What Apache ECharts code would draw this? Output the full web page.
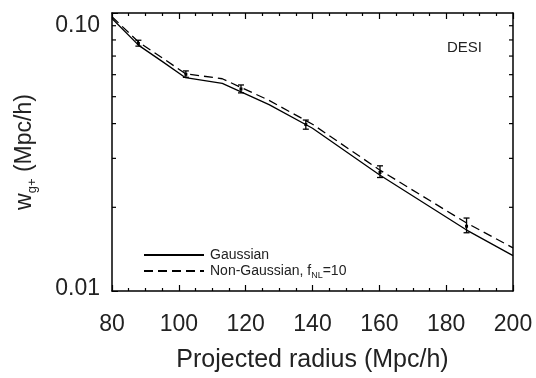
<!DOCTYPE html>
<html lang="en">
<head>
    <meta charset="utf-8">
    <script src="https://cdn.jsdelivr.net/npm/echarts@6/dist/echarts.min.js"></script>
    <style>
        html, body { margin: 0; padding: 0; background: #fff; }
        #chart { width: 536px; height: 378px; }
    </style>
</head>
<body>
    <div id="chart"></div>
    <script type="text/javascript">
        // curves: projected radius (Mpc/h) vs w_g+
        var gaussX = [80, 88, 95, 102, 113, 127, 140, 160, 186, 200];
        var gaussY = [0.0955, 0.0765, 0.0670, 0.0585, 0.0558, 0.0468, 0.0385, 0.0262, 0.0166, 0.0134];
        var ngX = [80, 88, 95, 102, 113, 127, 140, 160, 186, 200];
        var ngY = [0.0970, 0.0785, 0.0690, 0.0605, 0.0580, 0.0485, 0.0398, 0.0273, 0.0176, 0.0143];

        // error bars: x, low, high, centre
        var errX = [87.9, 102.1, 118.6, 138.0, 160.2, 186.1];
        var errLow = [0.0760, 0.0587, 0.0516, 0.0382, 0.0256, 0.0162];
        var errHigh = [0.0798, 0.0619, 0.0551, 0.0412, 0.0282, 0.0183];
        var errMid = [0.0777, 0.0602, 0.0533, 0.0397, 0.0267, 0.0171];

        var yMinorTicks = [0.02, 0.03, 0.04, 0.05, 0.06, 0.07, 0.08, 0.09];
        var yTickLabels = { '0.01': '0.01', '0.1': '0.10' };

        var myChart = echarts.init(document.getElementById('chart'));
        var font = 'Liberation Sans, Arial, Helvetica, sans-serif';

        function pairs(xs, ys) {
            var out = [];
            for (var i = 0; i < xs.length; i++) out.push([xs[i], ys[i]]);
            return out;
        }

        var errData = [];
        for (var i = 0; i < errX.length; i++) errData.push([errX[i], errLow[i], errHigh[i], errMid[i]]);

        var option = {
            animation: false,
            grid: { left: 112, right: 23, top: 13, bottom: 83 },
            legend: {
                data: ['Gaussian', 'Non-Gaussian'],
                orient: 'vertical',
                left: 138,
                top: 243,
                itemWidth: 60,
                itemHeight: 14,
                itemGap: 2,
                itemStyle: { opacity: 0 },
                textStyle: {
                    fontFamily: font, fontSize: 14, color: '#222', padding: [0, 0, 0, 1],
                    rich: {
                        n: { fontFamily: font, fontSize: 14, color: '#222' },
                        s: { fontFamily: font, fontSize: 9, color: '#222', verticalAlign: 'top', padding: [9, 0, 0, 0] }
                    }
                },
                formatter: function (name) {
                    if (name === 'Gaussian') return '{n|Gaussian}';
                    return '{n|Non-Gaussian, f}{s|NL}{n|=10}';
                }
            },
            graphic: [{
                type: 'text', left: 447, top: 40,
                style: { text: 'DESI', fontFamily: font, fontSize: 15, fill: '#222' }
            }],
            xAxis: [{
                type: 'value', min: 80, max: 200, interval: 20,
                name: 'Projected radius (Mpc/h)',
                nameLocation: 'middle', nameGap: 57,
                nameTextStyle: { fontFamily: font, fontSize: 25, color: '#222' },
                axisLine: { lineStyle: { color: '#000', width: 1.5 } },
                axisTick: { inside: true, length: 6, lineStyle: { color: '#000', width: 1.2 } },
                minorTick: { show: true, splitNumber: 4, length: 3, lineStyle: { color: '#000', width: 1.2 } },
                axisLabel: { margin: 22, fontFamily: font, fontSize: 23, color: '#222' },
                splitLine: { show: false }
            }, {
                type: 'value', min: 80, max: 200, interval: 20, position: 'top',
                axisLine: { lineStyle: { color: '#000', width: 1.5 } },
                axisTick: { inside: true, length: 6, lineStyle: { color: '#000', width: 1.2 } },
                minorTick: { show: true, splitNumber: 4, length: 3, lineStyle: { color: '#000', width: 1.2 } },
                axisLabel: { show: false },
                splitLine: { show: false }
            }],
            yAxis: [{
                type: 'log', logBase: 10, min: 0.01, max: 0.1,
                name: '{w|w}{s|g+}{w| (Mpc/h)}',
                nameLocation: 'middle', nameGap: 74, nameRotate: 90,
                nameTextStyle: {
                    rich: {
                        w: { fontFamily: font, fontSize: 23, color: '#222', verticalAlign: 'top', lineHeight: 25 },
                        s: { fontFamily: font, fontSize: 13, color: '#222', verticalAlign: 'top', lineHeight: 15, padding: [13, 0, 0, 0] }
                    }
                },
                axisLine: { lineStyle: { color: '#000', width: 1.5 } },
                axisTick: { inside: true, length: 6, lineStyle: { color: '#000' } },
                axisLabel: {
                    margin: 12, fontFamily: font, fontSize: 23, color: '#222',
                    formatter: function (v) {
                        var s = yTickLabels[String(+v.toPrecision(3))] || String(v);
                        return v > 0.05 ? '{t|' + s + '}' : '{b|' + s + '}';
                    },
                    rich: {
                        t: { fontFamily: font, fontSize: 23, color: '#222', padding: [26, 0, 0, 0] },
                        b: { fontFamily: font, fontSize: 23, color: '#222', padding: [0, 0, 4, 0] }
                    }
                },
                splitLine: { show: false }
            }, {
                type: 'log', logBase: 10, min: 0.01, max: 0.1, position: 'right',
                axisLine: { lineStyle: { color: '#000', width: 1.5 } },
                axisTick: { show: false },
                axisLabel: { show: false },
                splitLine: { show: false }
            }],
            series: [{
                name: 'Gaussian',
                type: 'line',
                data: pairs(gaussX, gaussY),
                symbol: 'none',
                lineStyle: { color: '#000', width: 1.3, type: 'solid' },
                itemStyle: { color: '#000' }
            }, {
                name: 'Non-Gaussian',
                type: 'line',
                data: pairs(ngX, ngY),
                symbol: 'none',
                lineStyle: { color: '#000', width: 1.3, type: [9, 5] },
                itemStyle: { color: '#000' }
            }, {
                name: 'err',
                type: 'custom',
                data: errData,
                renderItem: function (params, api) {
                    var lo = api.coord([api.value(0), api.value(1)]);
                    var hi = api.coord([api.value(0), api.value(2)]);
                    var mid = api.coord([api.value(0), api.value(3)]);
                    var st = { stroke: '#000', lineWidth: 1.3 };
                    return {
                        type: 'group',
                        children: [
                            { type: 'line', shape: { x1: lo[0], y1: lo[1], x2: hi[0], y2: hi[1] }, style: st },
                            { type: 'line', shape: { x1: lo[0] - 3, y1: lo[1], x2: lo[0] + 3, y2: lo[1] }, style: st },
                            { type: 'line', shape: { x1: hi[0] - 3, y1: hi[1], x2: hi[0] + 3, y2: hi[1] }, style: st },
                            { type: 'rect', shape: { x: mid[0] - 1.5, y: mid[1] - 1.5, width: 3, height: 3 }, style: { fill: '#000' } }
                        ]
                    };
                }
            }, {
                name: 'yminor',
                type: 'custom',
                data: yMinorTicks.map(function (v) { return [v]; }),
                clip: false,
                renderItem: function (params, api) {
                    var l = api.coord([80, api.value(0)]);
                    var r = api.coord([200, api.value(0)]);
                    var st = { stroke: '#000', lineWidth: 1.2 };
                    return {
                        type: 'group',
                        children: [
                            { type: 'line', shape: { x1: l[0], y1: l[1], x2: l[0] + 4, y2: l[1] }, style: st },
                            { type: 'line', shape: { x1: r[0] - 4, y1: r[1], x2: r[0], y2: r[1] }, style: st }
                        ]
                    };
                }
            }]
        };

        myChart.setOption(option);
    </script>
</body>
</html>
